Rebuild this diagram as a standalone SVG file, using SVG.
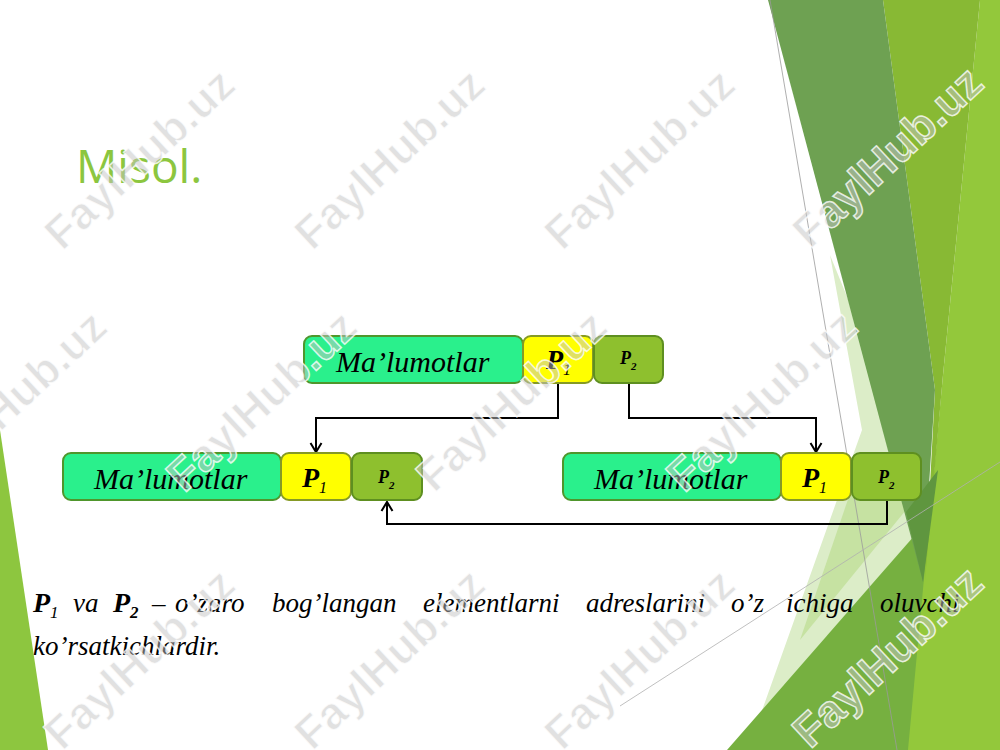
<svg xmlns="http://www.w3.org/2000/svg" width="1000" height="750" viewBox="0 0 1000 750">
<defs>
<style>
.main{fill:#2af08c;stroke:#4f962c;stroke-width:2}
.p1{fill:#ffff00;stroke:#869a25;stroke-width:2}
.p2{fill:#8ec02e;stroke:#5e8f20;stroke-width:2}
.lbl{font-style:italic;font-size:30px;fill:#000}
.pb{font-style:italic;font-weight:bold;fill:#000}
.ps{font-style:italic;font-weight:normal}
.con{fill:none;stroke:#000;stroke-width:2}
.body{font-style:italic;font-size:27px;fill:#000}
.wm{font-weight:900;font-size:45px;fill:#c4c4c4;fill-opacity:0.5;stroke:#ffffff;stroke-opacity:0.8;stroke-width:1.5}
</style>
<marker id="arr" markerWidth="14" markerHeight="14" refX="11" refY="7" orient="auto" markerUnits="userSpaceOnUse">
<polyline points="2,1.5 11,7 2,12.5" fill="none" stroke="#000" stroke-width="2"/>
</marker>
</defs>
<rect width="1000" height="750" fill="#ffffff"/>
<g id="background">
<polygon points="0,430 48,750 0,750" fill="#8dc63f"/>
<polygon points="830,255 935,512 760,716 862,430" fill="#dcedc8"/>
<polygon points="858,470 910,505 800,640" fill="#c6e2a2"/>
<polygon points="727,750 935,512 1000,488 1000,750" fill="#76b040"/>
<polygon points="980,0 1000,0 1000,750 908,750 943,375" fill="#93c83b"/>
<polygon points="883,0 980,0 943,375 925,580 935,390" fill="#88b934"/>
<polygon points="768,0 883,0 935,390 923,582" fill="#6ea152"/>
<polygon points="906,512 938,470 923,582" fill="#5f963f"/>
<line x1="770" y1="0" x2="897" y2="750" stroke="#9a9a9a" stroke-width="0.8"/>
<line x1="620" y1="706" x2="1000" y2="462" stroke="#b0b0b0" stroke-width="0.8"/>
</g>
<text x="76" y="183" font-family="Open Sans, sans-serif" font-size="46" fill="#8cc63f">Misol.</text>
<g id="connectors">
<polyline class="con" points="558,383 558,418 316,418 316,452" marker-end="url(#arr)"/>
<polyline class="con" points="629,383 629,418 816,418 816,452" marker-end="url(#arr)"/>
<polyline class="con" points="887,501 887,524 387,524 387,502" marker-end="url(#arr)"/>
</g>
<g id="node-top" font-family="Liberation Serif, DejaVu Serif, serif">
<rect class="main" x="304" y="336" width="219" height="47" rx="8"/>
<rect class="p1" x="523" y="336" width="70" height="47" rx="8"/>
<rect class="p2" x="594" y="336" width="69" height="47" rx="8"/>
<text class="lbl" x="336" y="372">Ma’lumotlar</text>
<text class="pb" x="546" y="369" font-size="28">P<tspan class="ps" dy="6" font-size="16">1</tspan></text>
<text class="pb" x="620" y="364" font-size="18">P<tspan dy="6" font-size="11">2</tspan></text>
</g>
<g id="node-left" font-family="Liberation Serif, DejaVu Serif, serif">
<rect class="main" x="63" y="453" width="218" height="47" rx="8"/>
<rect class="p1" x="281" y="453" width="70" height="47" rx="8"/>
<rect class="p2" x="352" y="453" width="70" height="47" rx="8"/>
<text class="lbl" x="94" y="489">Ma’lumotlar</text>
<text class="pb" x="302" y="487" font-size="28">P<tspan class="ps" dy="6" font-size="16">1</tspan></text>
<text class="pb" x="378" y="483" font-size="18">P<tspan dy="6" font-size="11">2</tspan></text>
</g>
<g id="node-right" font-family="Liberation Serif, DejaVu Serif, serif">
<rect class="main" x="563" y="453" width="218" height="47" rx="8"/>
<rect class="p1" x="781" y="453" width="70" height="47" rx="8"/>
<rect class="p2" x="852" y="453" width="69" height="47" rx="8"/>
<text class="lbl" x="594" y="489">Ma’lumotlar</text>
<text class="pb" x="802" y="487" font-size="28">P<tspan class="ps" dy="6" font-size="16">1</tspan></text>
<text class="pb" x="878" y="483" font-size="18">P<tspan dy="6" font-size="11">2</tspan></text>
</g>
<g id="caption" font-family="Liberation Serif, DejaVu Serif, serif">
<text class="body" y="612"><tspan x="33" font-weight="bold" font-size="28">P</tspan><tspan dy="6" font-size="17">1</tspan><tspan x="73" dy="-6">va</tspan><tspan x="113" font-weight="bold" font-size="28">P</tspan><tspan dy="6" font-size="17" font-weight="bold">2</tspan><tspan x="152" dy="-6">–</tspan><tspan x="175">o’zaro</tspan><tspan x="272">bog’langan</tspan><tspan x="423">elementlarni</tspan><tspan x="586">adreslarini</tspan><tspan x="731">o’z</tspan><tspan x="786">ichiga</tspan><tspan x="880">oluvchi</tspan></text>
<text class="body" x="33" y="655" font-size="28">ko’rsatkichlardir.</text>
</g>
<g id="watermarks" font-family="Liberation Sans, DejaVu Sans, sans-serif">
<text class="wm" text-anchor="middle" transform="translate(150,170) rotate(-43)">FaylHub.uz</text>
<text class="wm" text-anchor="middle" transform="translate(400,170) rotate(-43)">FaylHub.uz</text>
<text class="wm" text-anchor="middle" transform="translate(650,170) rotate(-43)">FaylHub.uz</text>
<text class="wm" text-anchor="middle" transform="translate(898,168) rotate(-43)">FaylHub.uz</text>
<text class="wm" text-anchor="middle" transform="translate(22,412) rotate(-43)">FaylHub.uz</text>
<text class="wm" text-anchor="middle" transform="translate(272,412) rotate(-43)">FaylHub.uz</text>
<text class="wm" text-anchor="middle" transform="translate(522,412) rotate(-43)">FaylHub.uz</text>
<text class="wm" text-anchor="middle" transform="translate(772,412) rotate(-43)">FaylHub.uz</text>
<text class="wm" text-anchor="middle" transform="translate(150,670) rotate(-43)">FaylHub.uz</text>
<text class="wm" text-anchor="middle" transform="translate(400,670) rotate(-43)">FaylHub.uz</text>
<text class="wm" text-anchor="middle" transform="translate(650,670) rotate(-43)">FaylHub.uz</text>
<text class="wm" text-anchor="middle" transform="translate(898,668) rotate(-43)">FaylHub.uz</text>
</g>
</svg>
